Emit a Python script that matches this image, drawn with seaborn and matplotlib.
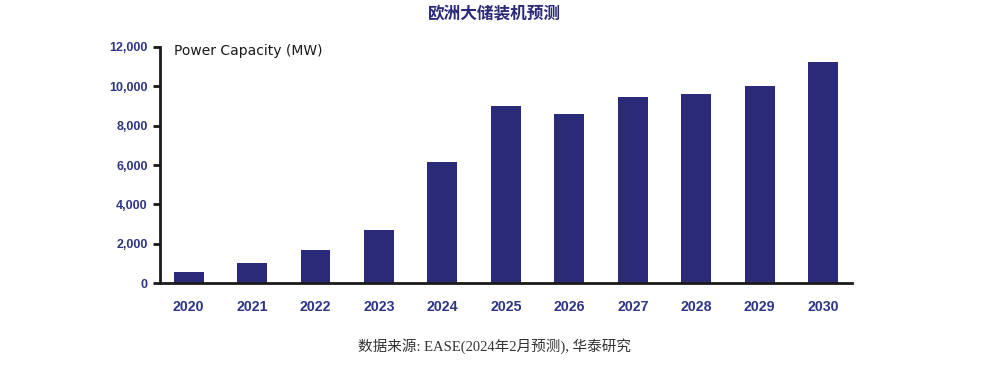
import matplotlib
matplotlib.use("Agg")
import matplotlib.pyplot as plt
import matplotlib.font_manager as fm
import seaborn as sns
import pandas as pd
import os
from matplotlib.ticker import FuncFormatter

years = ["2020", "2021", "2022", "2023", "2024", "2025", "2026", "2027", "2028", "2029", "2030"]
capacity = [550, 1000, 1680, 2700, 6180, 9020, 8580, 9480, 9600, 10000, 11220]

sns.set_theme(style="white")
plt.rcParams['font.family'] = ['Noto Sans CJK SC', 'DejaVu Sans']

bold_path = None
for f in fm.findSystemFonts():
    if os.path.basename(f) == "LiberationSans-Bold.ttf":
        bold_path = f
        break


def tick_fp(size):
    if bold_path:
        return fm.FontProperties(fname=bold_path, size=size)
    return fm.FontProperties(family="Roboto", weight="bold", size=size)


df = pd.DataFrame({"year": years, "cap": capacity})

fig = plt.figure(figsize=(9.88, 3.73), dpi=100)
ax = fig.add_axes([0.162, 0.241, 0.700, 0.633])
sns.barplot(data=df, x="year", y="cap", color="#2B2A78", width=0.47, saturation=1,
            linewidth=0, ax=ax)

ax.set_xlim(-0.45, 10.45)
ax.set_ylim(0, 12000)
ax.set_yticks(range(0, 12001, 2000))
ax.yaxis.set_major_formatter(FuncFormatter(lambda v, p: f"{int(v):,}"))
ax.set_xlabel("")
ax.set_ylabel("")
for s in ["top", "right"]:
    ax.spines[s].set_visible(False)
for s in ["left", "bottom"]:
    ax.spines[s].set_color("#1a1a1a")
    ax.spines[s].set_linewidth(2)
ax.tick_params(axis="y", which="major", left=True, length=5, width=2, color="#1a1a1a", pad=4,
               labelcolor="#2E3586")
ax.tick_params(axis="x", bottom=False, pad=6, labelcolor="#2E3586")
fig.canvas.draw()
for lab in ax.get_yticklabels():
    lab.set_fontproperties(tick_fp(9))
for lab in ax.get_xticklabels():
    lab.set_fontproperties(tick_fp(10.2))

ax.text(0.02, 0.985, "Power Capacity (MW)", transform=ax.transAxes, ha="left", va="center",
        fontsize=10, color="#1a1a1a", family=["DejaVu Sans"])

fig.text(0.5, 0.965, "欧洲大储装机预测", ha="center", va="center", fontsize=12,
         fontweight="bold", color="#2B2A78")
fig.text(0.5, 0.072, "数据来源: EASE(2024年2月预测), 华泰研究", ha="center", va="center",
         fontsize=10.5, color="#333333", family=["Liberation Serif", "Noto Sans CJK SC"])

fig.savefig("out.png", dpi=100)
